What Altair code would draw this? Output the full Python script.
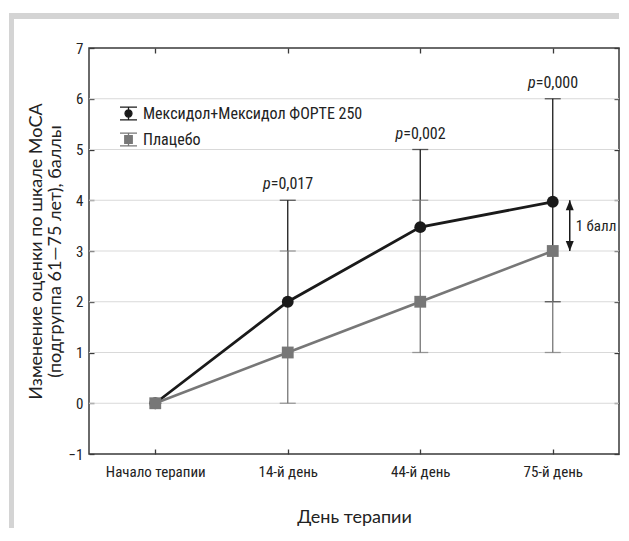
import altair as alt
import pandas as pd

# ---------------- data ----------------
days = ["Начало терапии", "14-й день", "44-й день", "75-й день"]
series_names = ["Мексидол+Мексидол ФОРТЕ 250", "Плацебо"]
mex_values = [0, 2, 3.47, 3.97]
pla_values = [0, 1, 2, 3]

err_days = ["14-й день", "44-й день", "75-й день"]
mex_value_err = [2, 3.47, 3.97]
mex_low = [2, 3.47, 2]
mex_high = [4, 5, 6]
pla_value_err = [1, 2, 3]
pla_low = [0, 1, 1]
pla_high = [3, 4, 3]

p_days = ["14-й день", "44-й день", "75-й день"]
p_y = [4, 5, 6]
p_texts = ["=0,017", "=0,002", "=0,000"]

y_ticks = [-1, 0, 1, 2, 3, 4, 5, 6, 7]
grid_values = [0, 1, 2, 3, 4, 5, 6]

diff_day = ["75-й день"]
diff_low = [3]
diff_high = [4]
diff_mid = [3.5]
diff_label = ["1 балл"]

# ---------------- tables ----------------
df_main = pd.DataFrame({
    "day": days * 2,
    "series": [series_names[0]] * 4 + [series_names[1]] * 4,
    "v": mex_values + pla_values,
})
df_mex = df_main[df_main.series == series_names[0]]
df_pla = df_main[df_main.series == series_names[1]]
df_mex_err = pd.DataFrame({"day": err_days, "v": mex_value_err, "lo": mex_low, "hi": mex_high})
df_pla_err = pd.DataFrame({"day": err_days, "v": pla_value_err, "lo": pla_low, "hi": pla_high})
df_p = pd.DataFrame({"day": p_days, "y": p_y, "t": p_texts, "p": ["p"] * 3})
df_grid = pd.DataFrame({"g": grid_values})
df_diff = pd.DataFrame({"day": diff_day, "lo": diff_low, "hi": diff_high, "mid": diff_mid, "t": diff_label})
df_one = pd.DataFrame({"k": [0]})

# ---------------- style ----------------
W, H = 530, 406
BLACK = "#1a1a1a"
GRAY = "#777777"
AXC = "#3a3a3a"
TXT = "#222222"
FONT_N = "Roboto Condensed"
FONT_R = "Lato"

xs = alt.Scale(type="point", domain=days, padding=0.5)
ys = alt.Scale(domain=[-1, 7], nice=False, zero=False)

tick_common = dict(offset=-5, tickSize=5, tickColor=AXC, tickWidth=1.3, domain=False, grid=False)

axis_left = alt.Axis(orient="left", values=y_ticks, labelPadding=6, labelFont=FONT_N,
                     labelFontSize=15, labelColor=TXT,
                     title=["Изменение оценки по шкале МоСА", "(подгруппа 61—75 лет), баллы"],
                     titleFont=FONT_R, titleFontSize=18, titleFontWeight="normal", titleColor=TXT,
                     titlePadding=4, titleLineHeight=19, **tick_common)
axis_right = alt.Axis(orient="right", values=y_ticks, labels=False, title=None, **tick_common)
axis_bottom = alt.Axis(orient="bottom", labelPadding=10, labelFont=FONT_N, labelFontSize=15,
                       labelColor=TXT, labelAngle=0, title="День терапии", titleFont=FONT_R,
                       titleFontSize=18, titleFontWeight="normal", titleColor=TXT, titlePadding=29,
                       **tick_common)
axis_top = alt.Axis(orient="top", labels=False, title=None, **tick_common)

# ---------------- layers ----------------
band_left = alt.Chart(df_one).mark_rect(color="#d4d4d4").encode(
    x=alt.value(-80), x2=alt.value(-75), y=alt.value(-35), y2=alt.value(480))
band_top = alt.Chart(df_one).mark_rect(color="#d4d4d4").encode(
    x=alt.value(-80), x2=alt.value(W), y=alt.value(-35), y2=alt.value(-29))

grid = alt.Chart(df_grid).mark_rule(color="#d9d9d9", strokeWidth=1).encode(
    y=alt.Y("g:Q", scale=ys, axis=axis_left))

def err_layers(df, color, yaxis=None):
    rule = alt.Chart(df).mark_rule(color=color, strokeWidth=1.3).encode(
        x=alt.X("day:N", scale=xs, axis=None),
        y=alt.Y("lo:Q", scale=ys, axis=yaxis), y2="hi:Q")
    cap_hi = alt.Chart(df).transform_filter("datum.hi > datum.v").mark_tick(
        color=color, thickness=1.3, size=16).encode(
        x=alt.X("day:N", scale=xs, axis=None), y=alt.Y("hi:Q", scale=ys, axis=None))
    cap_lo = alt.Chart(df).transform_filter("datum.lo < datum.v").mark_tick(
        color=color, thickness=1.3, size=16).encode(
        x=alt.X("day:N", scale=xs, axis=None), y=alt.Y("lo:Q", scale=ys, axis=None))
    return [rule, cap_hi, cap_lo]

mex_err = err_layers(df_mex_err, BLACK, axis_right)
pla_err = err_layers(df_pla_err, GRAY)

line_mex = alt.Chart(df_mex).mark_line(color=BLACK, strokeWidth=2.8).encode(
    x=alt.X("day:N", scale=xs, axis=axis_bottom), y=alt.Y("v:Q", scale=ys, axis=None))
line_pla = alt.Chart(df_pla).mark_line(color=GRAY, strokeWidth=2.6).encode(
    x=alt.X("day:N", scale=xs, axis=axis_top), y=alt.Y("v:Q", scale=ys, axis=None))

pts_mex = alt.Chart(df_mex).mark_point(shape="circle", filled=True, size=140, color=BLACK, opacity=1).encode(
    x=alt.X("day:N", scale=xs, axis=None), y=alt.Y("v:Q", scale=ys, axis=None))
pts_pla = alt.Chart(df_pla).mark_point(shape="square", filled=True, size=140, color=GRAY, opacity=1).encode(
    x=alt.X("day:N", scale=xs, axis=None), y=alt.Y("v:Q", scale=ys, axis=None))

p_italic = alt.Chart(df_p).mark_text(font=FONT_N, fontSize=16, fontStyle="italic", color=TXT,
                                     align="right", baseline="alphabetic", dx=-17, dy=-11).encode(
    x=alt.X("day:N", scale=xs, axis=None), y=alt.Y("y:Q", scale=ys, axis=None), text="p:N")
p_rest = alt.Chart(df_p).mark_text(font=FONT_N, fontSize=16, color=TXT,
                                   align="left", baseline="alphabetic", dx=-17, dy=-11).encode(
    x=alt.X("day:N", scale=xs, axis=None), y=alt.Y("y:Q", scale=ys, axis=None), text="t:N")

ARROW_UP = "M0,-1L-0.8,1L0.8,1Z"
ARROW_DN = "M0,1L-0.8,-1L0.8,-1Z"
diff_rule = alt.Chart(df_diff).mark_rule(color=BLACK, strokeWidth=1.5, xOffset=17).encode(
    x=alt.X("day:N", scale=xs, axis=None), y=alt.Y("lo:Q", scale=ys, axis=None), y2="hi:Q")
diff_up = alt.Chart(df_diff).mark_point(shape=ARROW_UP, filled=True, size=100, color=BLACK,
                                        opacity=1, xOffset=17, yOffset=5).encode(
    x=alt.X("day:N", scale=xs, axis=None), y=alt.Y("hi:Q", scale=ys, axis=None))
diff_dn = alt.Chart(df_diff).mark_point(shape=ARROW_DN, filled=True, size=100, color=BLACK,
                                        opacity=1, xOffset=17, yOffset=-5).encode(
    x=alt.X("day:N", scale=xs, axis=None), y=alt.Y("lo:Q", scale=ys, axis=None))
diff_text = alt.Chart(df_diff).mark_text(font=FONT_N, fontSize=15, color=TXT, align="left",
                                         baseline="middle", dx=23).encode(
    x=alt.X("day:N", scale=xs, axis=None), y=alt.Y("mid:Q", scale=ys, axis=None), text="t:N")

PATH_MEX = ("M-1,-0.76H1M0,-0.76V0.76M-1,0.76H1"
            "M0.41,0A0.41,0.41 0 1 1 -0.41,0A0.41,0.41 0 1 1 0.41,0Z")
PATH_PLA = "M-1,-0.76H1M0,-0.76V0.76M-1,0.76H1M-0.44,-0.44H0.44V0.44H-0.44Z"
leg = alt.Legend(orient="none", legendX=30, legendY=56, title=None, padding=0,
                 labelFont=FONT_N, labelFontSize=16, labelColor=TXT, labelOffset=5, labelLimit=500,
                 symbolSize=289, symbolStrokeWidth=1.3, rowPadding=7, symbolOpacity=1)
col_scale = alt.Scale(domain=series_names, range=[BLACK, GRAY])
legend_layer = alt.Chart(df_main).transform_filter("false").mark_point(filled=True, strokeWidth=1.3).encode(
    x=alt.X("day:N", scale=xs, axis=None), y=alt.Y("v:Q", scale=ys, axis=None),
    fill=alt.Fill("series:N", scale=col_scale, legend=leg, sort=series_names),
    stroke=alt.Stroke("series:N", scale=col_scale, legend=leg, sort=series_names),
    shape=alt.Shape("series:N", scale=alt.Scale(domain=series_names, range=[PATH_MEX, PATH_PLA]),
                    legend=leg, sort=series_names))

chart = alt.layer(
    band_left, band_top, grid, *mex_err, *pla_err, line_mex, line_pla, pts_mex, pts_pla,
    diff_rule, diff_up, diff_dn, diff_text, p_italic, p_rest, legend_layer
).resolve_axis(x="independent", y="independent").properties(
    width=W, height=H, padding={"left": 1, "top": 5, "right": 0, "bottom": 0},
    background="white"
).configure_view(stroke=AXC, strokeWidth=1.5)

chart.save("out.html", embed_options={"renderer": "svg", "actions": False})
